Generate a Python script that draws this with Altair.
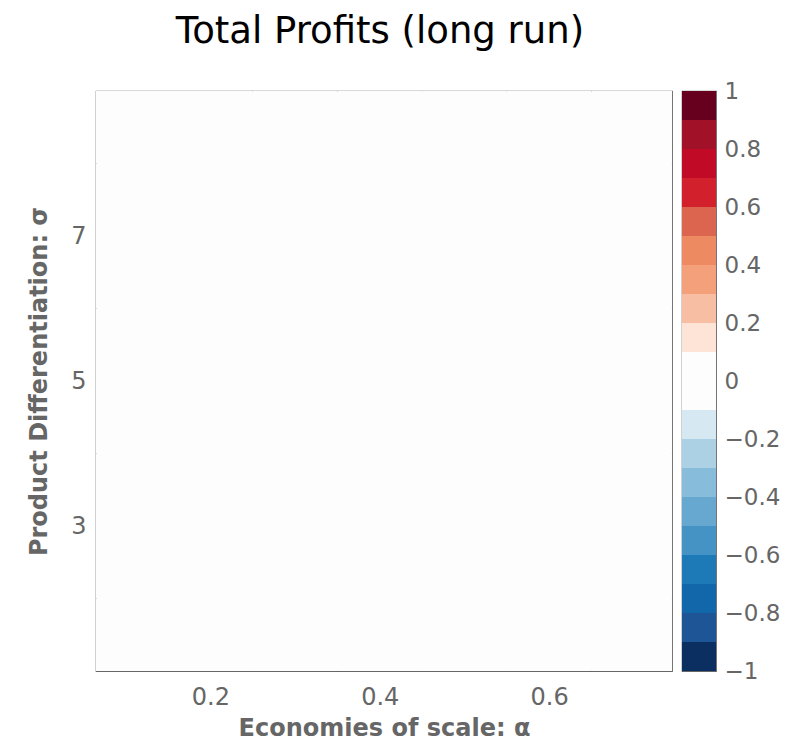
import altair as alt
import pandas as pd

# grid of the parameter sweep (cell centres)
alpha_vals = [0.1, 0.2, 0.3, 0.4, 0.5, 0.6, 0.7]
sigma_vals = [1.5, 2.5, 3.5, 4.5, 5.5, 6.5, 7.5, 8.5]

# total long-run profits: zero everywhere (one row per sigma)
profit_rows = [
    [0.0, 0.0, 0.0, 0.0, 0.0, 0.0, 0.0],
    [0.0, 0.0, 0.0, 0.0, 0.0, 0.0, 0.0],
    [0.0, 0.0, 0.0, 0.0, 0.0, 0.0, 0.0],
    [0.0, 0.0, 0.0, 0.0, 0.0, 0.0, 0.0],
    [0.0, 0.0, 0.0, 0.0, 0.0, 0.0, 0.0],
    [0.0, 0.0, 0.0, 0.0, 0.0, 0.0, 0.0],
    [0.0, 0.0, 0.0, 0.0, 0.0, 0.0, 0.0],
    [0.0, 0.0, 0.0, 0.0, 0.0, 0.0, 0.0],
]

# colour levels (bottom to top)
level_edges = [-1.0, -0.9, -0.8, -0.7, -0.6, -0.5, -0.4, -0.3, -0.2, -0.1, 0.0,
               0.1, 0.2, 0.3, 0.4, 0.5, 0.6, 0.7, 0.8, 0.9, 1.0]
level_colors = ['#0a2f60', '#1e5597', '#1267ab', '#1d7ab6', '#4593c4',
                '#67a8d0', '#87bcdb', '#acd1e5', '#d6e8f1', '#fdfdfd',
                '#fdfdfd', '#fde4d7', '#f8bea3', '#f4a07b', '#ee8a62',
                '#dc6550', '#d3202d', '#c00a26', '#a11228', '#67001f']
cbar_ticks = [-1, -0.8, -0.6, -0.4, -0.2, 0, 0.2, 0.4, 0.6, 0.8, 1]

FONT = 'DejaVu Sans'

rows = []
for sigma, row in zip(sigma_vals, profit_rows):
    for alpha, p in zip(alpha_vals, row):
        rows.append({'alpha': alpha, 'sigma': sigma, 'profit': p})
df = pd.DataFrame(rows)

levels = pd.DataFrame({
    'lo': level_edges[:-1],
    'hi': level_edges[1:],
    'color': level_colors,
})

heat = alt.Chart(df).transform_calculate(
    a0='datum.alpha - 0.05', a1='datum.alpha + 0.05',
    s0='datum.sigma - 0.5', s1='datum.sigma + 0.5'
).mark_rect().encode(
    x=alt.X('a0:Q', title='Economies of scale: α',
            scale=alt.Scale(domain=[0.065, 0.745], nice=False, zero=False, clamp=True),
            axis=alt.Axis(values=[0.2, 0.4, 0.6], format='.1f', labelPadding=14,
                          titlePadding=7)),
    x2='a1:Q',
    y=alt.Y('s0:Q', title='Product Differentiation: σ',
            scale=alt.Scale(domain=[1, 9], nice=False, zero=False, clamp=True),
            axis=alt.Axis(values=[3, 5, 7], labelPadding=10, titlePadding=19)),
    y2='s1:Q',
    color=alt.Color('profit:Q', legend=None,
                    scale=alt.Scale(type='threshold', domain=level_edges[1:-1],
                                    range=level_colors)),
).properties(
    width=576, height=580,
    title=alt.Title('Total Profits (long run)', fontSize=37, font=FONT,
                    fontWeight='normal', color='black', offset=40,
                    anchor='middle', frame='group', dx=-4)
)

cbar = alt.Chart(levels).mark_rect().encode(
    x=alt.value(0), x2=alt.value(34),
    y=alt.Y('lo:Q', title=None,
            scale=alt.Scale(domain=[-1, 1], nice=False, zero=False),
            axis=alt.Axis(orient='right', values=cbar_ticks, format='~g',
                          labelPadding=8, labelFontSize=23)),
    y2='hi:Q',
    color=alt.Color('color:N', scale=None),
).properties(width=34, height=580)

chart = alt.hconcat(heat, cbar, spacing=10, bounds='flush').properties(
    padding={'left': 19, 'top': 4, 'right': 0, 'bottom': 0}
).configure_view(
    stroke='#666666', strokeWidth=1.2
).configure_axis(
    domain=False, ticks=False, grid=False,
    labelFont=FONT, labelFontSize=24, labelColor='#666666',
    titleFont=FONT, titleFontSize=24, titleFontWeight='bold', titleColor='#666666'
)

chart.save('out.html', embed_options={'renderer': 'svg', 'actions': False})
